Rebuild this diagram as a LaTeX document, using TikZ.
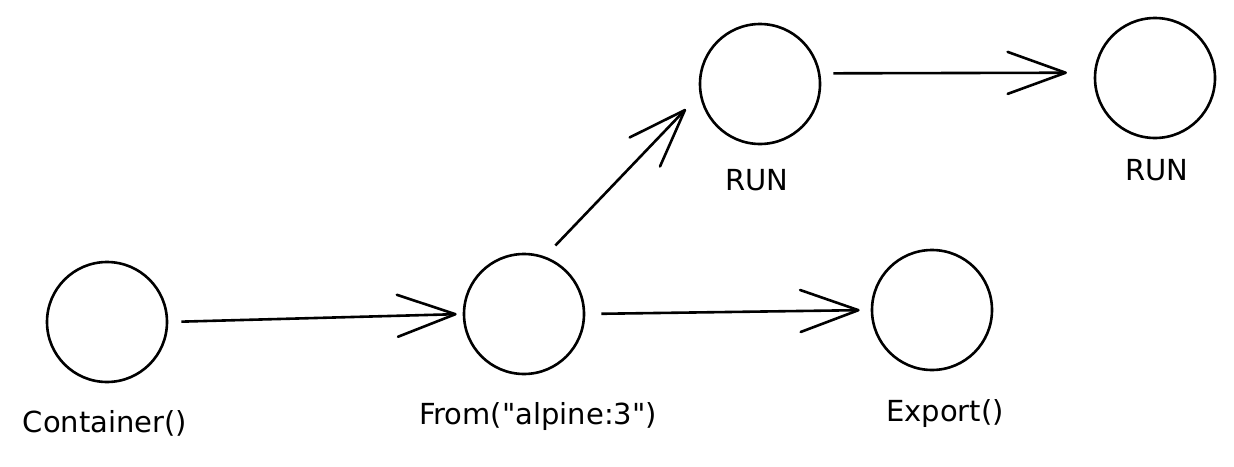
\documentclass[tikz,border=0pt]{standalone}
\usepackage{fontspec}
\setmainfont{DejaVu Sans}
\usetikzlibrary{arrows.meta}
\begin{document}
\begin{tikzpicture}[x=1pt,y=-1pt,line width=2.6pt,
  stage/.style={circle,draw,minimum size=120pt,inner sep=0pt},
  lbl/.style={font=\fontsize{29}{33}\selectfont},
  flow/.style={-{Straight Barb[length=58pt,width=42pt,round]}}]
\useasboundingbox (0,0) rectangle (1234,466);
\path (107,322) node[stage] (A) {} (524,314) node[stage] (B) {} (760,84) node[stage] (C) {}
 (1155,78) node[stage] (D) {} (932,310) node[stage] (E) {};
\path (105,423) node[lbl] (LA) {Container()} (538,416) node[lbl] (LB) {From(\textquotedbl alpine:3\textquotedbl)}
 (757,180) node[lbl] (LC) {RUN} (1157,170) node[lbl] (LD) {RUN} (945,414) node[lbl] (LE) {Export()};
 \foreach \d/\dd/\p/\q in {A.0/B.180/13/6, B.0/E.180/16/11, B.70/C.190/15/20, C.10/D.175/13/27}
  \draw[flow, shorten <=\p pt, shorten >=\q pt] (\d) -- (\dd);
\end{tikzpicture}
\end{document}
